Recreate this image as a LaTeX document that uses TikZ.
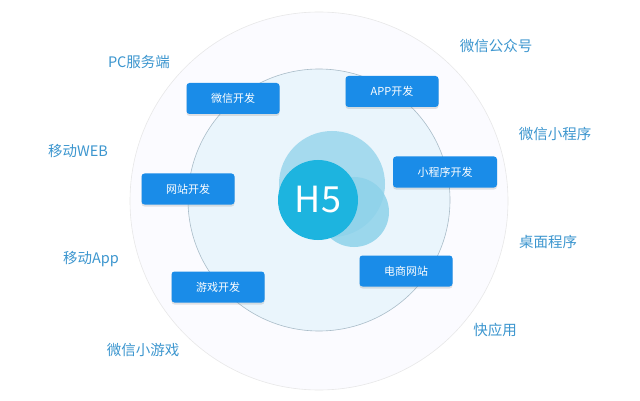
\documentclass[tikz,border=0pt]{standalone}
\usepackage{fontspec}
\newfontfamily\cjk{Noto Sans CJK SC}
\newfontfamily\cjkm{Noto Sans CJK SC Medium}
\setmainfont{Noto Sans CJK SC}
\usetikzlibrary{shadows}
\definecolor{boxblue}{HTML}{1A8CE8}
\definecolor{labelblue}{HTML}{3C96CF}
\definecolor{hcyan}{HTML}{1DB4DF}
\definecolor{lightc}{HTML}{8ED2EA}
\definecolor{innerfill}{HTML}{EAF5FC}
\definecolor{ringline}{HTML}{A9BCC8}
\tikzset{
  devbox/.style={draw=none, fill=boxblue, rounded corners=3pt, minimum width=93pt, minimum height=31pt,
    text=white, font=\cjk\fontsize{11}{13}\selectfont, inner sep=0pt,
    drop shadow={shadow xshift=0pt, shadow yshift=-2pt, opacity=0.18, fill=black!60}},
  outlabel/.style={text=labelblue, font=\cjk\fontsize{14.5}{17}\selectfont, inner sep=0pt}
}
\begin{document}
\begin{tikzpicture}[x=1pt,y=-1pt]
\useasboundingbox (0,0) rectangle (640,401);
\fill[white] (0,0) rectangle (640,401);
% outer ring
\node[circle, draw=black!9, fill=blue!1.5, minimum size=378pt, inner sep=0pt, line width=0.6pt] (outer) at (319,201) {};
% inner ring
\node[circle, draw=ringline, fill=innerfill, minimum size=262pt, inner sep=0pt, line width=0.6pt] (inner) at (319,200) {};
% decorative circles
\node[circle, fill=lightc, fill opacity=0.75, minimum size=106pt, inner sep=0pt] (big) at (332,184) {};
\node[circle, fill=lightc, fill opacity=0.85, minimum size=70pt, inner sep=0pt] (small) at (354,212) {};
\node[circle, fill=hcyan, minimum size=80pt, inner sep=0pt, text=white, font=\cjk\fontsize{36}{40}\selectfont] (h5) at (318,200) {H5};
% boxes
\node[devbox] (wx) at (233,98.5) {微信开发};
\node[devbox] (app) at (392,91.5) {APP开发};
\node[devbox, minimum width=104pt] (mini) at (445,172) {小程序开发};
\node[devbox] (web) at (188,189) {网站开发};
\node[devbox] (shop) at (406,271) {电商网站};
\node[devbox] (game) at (218,287) {游戏开发};
% outer labels
\node[outlabel] (l1) at (496,46) {微信公众号};
\node[outlabel] (l2) at (139,62) {PC服务端};
\node[outlabel] (l3) at (555,134) {微信小程序};
\node[outlabel] (l4) at (78,151) {移动WEB};
\node[outlabel] (l5) at (548,242) {桌面程序};
\node[outlabel] (l6) at (91,259) {移动App};
\node[outlabel] (l7) at (495,330) {快应用};
\node[outlabel] (l8) at (143,350) {微信小游戏};
\end{tikzpicture}
\end{document}
